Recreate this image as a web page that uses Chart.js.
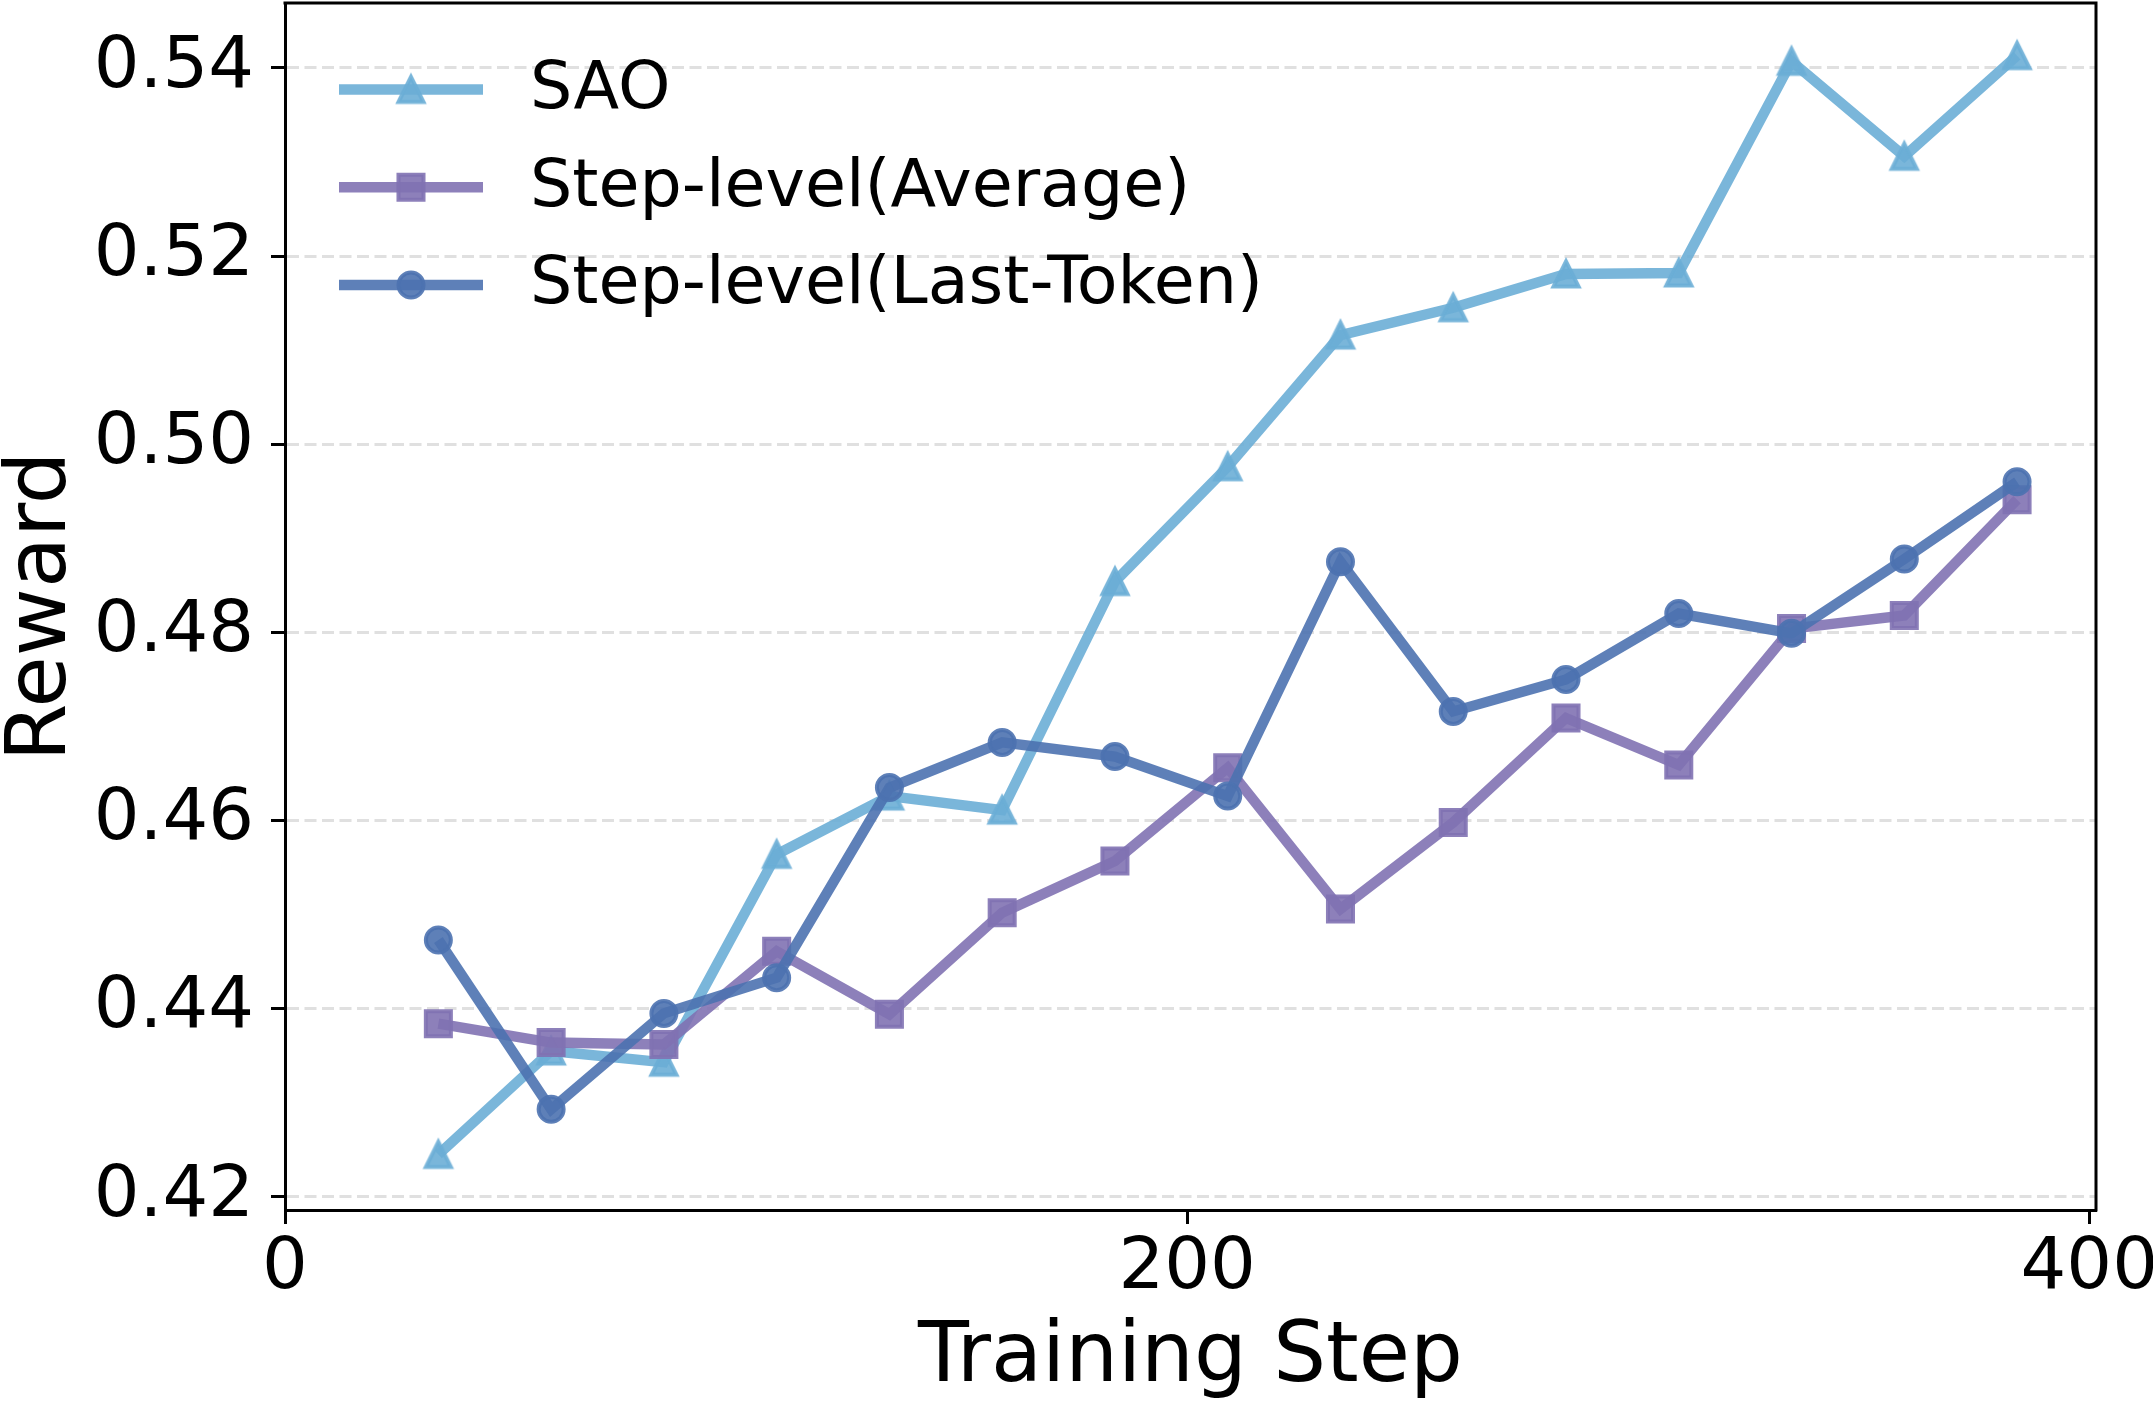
<!DOCTYPE html>
<html>
<head>
<meta charset="utf-8">
<script src="https://cdn.jsdelivr.net/npm/chart.js@4.4.1/dist/chart.umd.min.js"></script>
<style>
  html, body { margin: 0; padding: 0; background: #ffffff; }
  #wrap { width: 2153px; height: 1406px; position: relative; }
  canvas { display: block; }
</style>
</head>
<body>
<div id="wrap"><canvas id="c" width="2153" height="1406"></canvas></div>
<script>
// ---- data ----
const steps = [34, 59, 84, 109, 134, 159, 184, 209, 234, 259, 284, 309, 334, 359, 384];
const saoReward = [0.4245, 0.4355, 0.4343, 0.4564, 0.4626, 0.4611, 0.4854, 0.4976, 0.5116, 0.5145, 0.5181, 0.5182, 0.5407, 0.5306, 0.5413];
const avgReward = [0.4384, 0.4364, 0.4362, 0.4461, 0.4394, 0.4502, 0.4557, 0.4656, 0.4506, 0.4598, 0.4709, 0.4659, 0.4804, 0.4818, 0.4941];
const lastTokenReward = [0.4473, 0.4293, 0.4395, 0.4433, 0.4635, 0.4683, 0.4668, 0.4626, 0.4875, 0.4716, 0.4750, 0.4820, 0.4799, 0.4878, 0.4960];
const seriesNames = ['SAO', 'Step-level(Average)', 'Step-level(Last-Token)'];
const xTicks = [0, 200, 400];
const xTickLabels = ['0', '200', '400'];
const yTicks = [0.42, 0.44, 0.46, 0.48, 0.50, 0.52, 0.54];
const yTickLabels = ['0.42', '0.44', '0.46', '0.48', '0.50', '0.52', '0.54'];
const xTitle = 'Training Step';
const yTitle = 'Reward';

// ---- styles ----
const FONT = "'DejaVu Sans', 'Liberation Sans', sans-serif";
const colSAO = 'rgba(107, 174, 214, 0.9)';
const colAvg = 'rgba(129, 114, 179, 0.9)';
const colLT  = 'rgba(76, 114, 176, 0.9)';
const LINE_W = 10.4;
const EDGE_W = 4;

function makeTriangle(color, size, lw) {
  const dim = 44;
  const c = document.createElement('canvas');
  c.width = dim; c.height = dim;
  const g = c.getContext('2d');
  const cx = dim / 2, h = size / 2;
  g.beginPath();
  g.moveTo(cx, cx - h);
  g.lineTo(cx - h, cx + h);
  g.lineTo(cx + h, cx + h);
  g.closePath();
  g.fillStyle = color; g.fill();
  g.lineWidth = lw; g.strokeStyle = color; g.lineJoin = 'miter'; g.stroke();
  return c;
}
const triSAO = makeTriangle(colSAO, 25, EDGE_W);

function pts(xs, ys) { return xs.map((x, i) => ({ x: x, y: ys[i] })); }

const legendPlugin = {
  id: 'mplLegend',
  afterDraw(chart) {
    const { ctx, chartArea: a } = chart;
    ctx.save();
    // top and right spines
    ctx.strokeStyle = '#000';
    ctx.lineWidth = 3;
    ctx.lineCap = 'square';
    ctx.beginPath();
    ctx.moveTo(a.left, a.top);
    ctx.lineTo(a.right, a.top);
    ctx.lineTo(a.right, a.bottom);
    ctx.stroke();
    // legend
    const rows = [86.5, 184.2, 282];
    chart.data.datasets.forEach((ds, i) => {
      const y = a.top + rows[i];
      const x0 = a.left + 54, x1 = a.left + 198, xm = a.left + 126;
      ctx.lineCap = 'butt';
      ctx.strokeStyle = ds.borderColor;
      ctx.lineWidth = ds.borderWidth;
      ctx.beginPath(); ctx.moveTo(x0, y); ctx.lineTo(x1, y); ctx.stroke();
      const ps = ds.pointStyle;
      if (typeof ps === 'object') {
        ctx.drawImage(ps, xm - ps.width / 2, y - ps.height / 2);
      } else {
        ctx.fillStyle = ds.pointBackgroundColor;
        ctx.strokeStyle = ds.pointBorderColor;
        ctx.lineWidth = ds.pointBorderWidth;
        ctx.beginPath();
        if (ps === 'circle') {
          ctx.arc(xm, y, ds.pointRadius, 0, Math.PI * 2);
        } else {
          const s = Math.SQRT1_2 * ds.pointRadius;
          ctx.rect(xm - s, y - s, 2 * s, 2 * s);
        }
        ctx.fill(); ctx.stroke();
      }
      ctx.fillStyle = '#000';
      ctx.font = '66.7px ' + FONT;
      ctx.textAlign = 'left';
      ctx.textBaseline = 'middle';
      ctx.fillText(ds.label, a.left + 245, y + 1);
    });
    ctx.restore();
  }
};

const ctxEl = document.getElementById('c');
new Chart(ctxEl, {
  type: 'line',
  data: {
    datasets: [
      {
        label: seriesNames[0], data: pts(steps, saoReward), order: 3,
        borderColor: colSAO, borderWidth: LINE_W, fill: false, tension: 0,
        pointStyle: triSAO, pointRadius: 14,
        pointBackgroundColor: colSAO, pointBorderColor: colSAO, pointBorderWidth: EDGE_W
      },
      {
        label: seriesNames[1], data: pts(steps, avgReward), order: 2,
        borderColor: colAvg, borderWidth: LINE_W, fill: false, tension: 0,
        pointStyle: 'rect', pointRadius: 17.7,
        pointBackgroundColor: colAvg, pointBorderColor: colAvg, pointBorderWidth: EDGE_W
      },
      {
        label: seriesNames[2], data: pts(steps, lastTokenReward), order: 1,
        borderColor: colLT, borderWidth: LINE_W, fill: false, tension: 0,
        pointStyle: 'circle', pointRadius: 12.5,
        pointBackgroundColor: colLT, pointBorderColor: colLT, pointBorderWidth: EDGE_W
      }
    ]
  },
  options: {
    responsive: false,
    devicePixelRatio: 1,
    animation: false,
    events: [],
    layout: { autoPadding: false, padding: { left: 0, top: 3, right: 57, bottom: 0 } },
    plugins: { legend: { display: false }, tooltip: { enabled: false } },
    scales: {
      x: {
        type: 'linear',
        min: 0, max: 401.5,
        afterBuildTicks: (s) => { s.ticks = xTicks.map(v => ({ value: v })); },
        afterFit: (s) => {
          s.height = 196;
          s.paddingLeft = 0; s.paddingRight = 0; s.paddingTop = 0; s.paddingBottom = 0;
        },
        ticks: {
          autoSkip: false, maxRotation: 0, minRotation: 0,
          color: '#000', padding: 9,
          font: { family: FONT, size: 72, lineHeight: 1 },
          callback: (v) => xTickLabels[xTicks.indexOf(v)]
        },
        grid: {
          drawOnChartArea: false, drawTicks: true,
          tickLength: 14, tickWidth: 3, tickColor: '#000'
        },
        border: { display: true, color: '#000', width: 3 },
        title: {
          display: true, text: xTitle, color: '#000',
          font: { family: FONT, size: 83.3, lineHeight: 1 },
          padding: { top: 0, bottom: 5 }
        }
      },
      y: {
        type: 'linear',
        min: 0.4186, max: 0.5469,
        afterBuildTicks: (s) => { s.ticks = yTicks.map(v => ({ value: v })); },
        afterFit: (s) => {
          s.width = 285;
          s.paddingLeft = 0; s.paddingRight = 0; s.paddingTop = 0; s.paddingBottom = 0;
        },
        ticks: {
          autoSkip: false, color: '#000', padding: 17,
          font: { family: FONT, size: 72, lineHeight: 1 },
          callback: (v) => yTickLabels[yTicks.indexOf(v)]
        },
        grid: {
          drawOnChartArea: true, drawTicks: true,
          color: '#e0e0e0', lineWidth: 3,
          tickLength: 14, tickWidth: 3, tickColor: '#000', tickBorderDash: []
        },
        border: { display: true, color: '#000', width: 3, dash: [12, 5.5] },
        title: {
          display: true, text: yTitle, color: '#000',
          font: { family: FONT, size: 83.3, lineHeight: 1 },
          padding: { top: 1.5, bottom: 0 }
        }
      }
    }
  },
  plugins: [legendPlugin]
});
</script>
</body>
</html>
